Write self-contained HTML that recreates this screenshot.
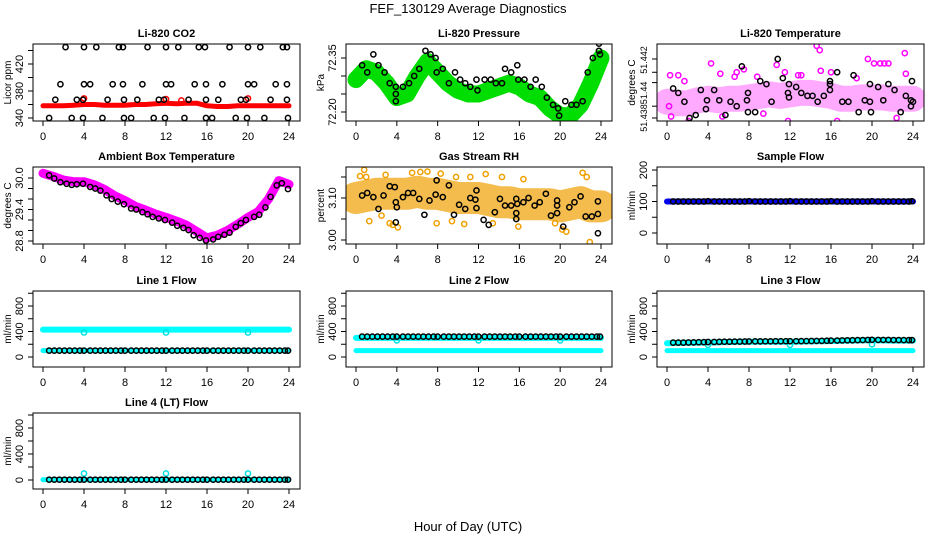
<!DOCTYPE html>
<html><head><meta charset="utf-8"><style>
html,body{margin:0;padding:0;background:#fff;}
svg{display:block;font-family:"Liberation Sans",Arial,sans-serif;}
</style></head><body>
<svg id="chart" width="936" height="540" viewBox="0 0 936 540">
<text x="468" y="13" text-anchor="middle" font-size="13">FEF_130129  Average Diagnostics</text>
<text x="468" y="531" text-anchor="middle" font-size="13">Hour of Day (UTC)</text>
</svg>
<script>
// ---------- DATA ----------
const xTicks = [0,4,8,12,16,20,24];
const bandHours = [0,1,2,3,4,5,6,7,8,9,10,11,12,13,14,15,16,17,18,19,20,21,22,23,24];
const hrs48 = [0.6,1.1,1.6,2.1,2.6,3.1,3.6,4.0,4.6,5.1,5.6,6.1,6.6,7.1,7.6,8.0,8.6,9.1,9.6,10.1,10.6,11.1,11.6,12.0,12.6,13.1,13.6,14.1,14.6,15.1,15.6,16.0,16.6,17.1,17.6,18.1,18.6,19.1,19.6,20.0,20.6,21.1,21.6,22.1,22.6,23.1,23.6,23.9];

// CO2
const co2BandValues = [358,358,358,359,360,360,359,359,359,360,360,361,362,361,362,362,358,357,357,358,358,358,358,358,358];
const co2BlackHours = [2.2,4,5.2,7.4,7.8,10.2,12,13.2,15.2,15.8,18.2,20,21.2,23.4,23.8, 1.7,4,4.6,6.8,7.8,9.7,12,12.5,14.8,15.9,17.5,20,20.6,22.7,23.8, 1.2,3.3,3.9,6.3,7.9,9.2,11.3,11.8,14.2,15.9,17.1,19.3,19.8,22.2,23.8, 0.6,2.8,3.9,5.8,7.9,8.6,10.8,11.9,13.8,15.9,16.5,18.8,19.9,21.6,23.9];
const co2BlackValues = [445,445,445,445,445,445,445,445,445,445,445,445,445,445,445, 390,390,390,390,390,390,390,390,390,390,390,390,390,390,390, 367,367,367,367,367,367,367,367,367,367,367,367,367,367,367, 340,340,340,340,340,340,340,340,340,340,340,340,340,340,340];
const co2RedHours = [4,12,13.5,20];
const co2RedValues = [369,368,366,369];

// Pressure
const presBandValues = [72.29,72.32,72.31,72.28,72.24,72.25,72.30,72.34,72.31,72.28,72.26,72.25,72.25,72.26,72.27,72.28,72.27,72.25,72.24,72.21,72.19,72.19,72.22,72.28,72.35];
const presBlackHours = [0.6,1.1,1.7,2.2,2.8,3.3,3.9,3.9,3.9,4.6,5.2,5.7,6.2,6.8,7.3,7.8,7.9,8.5,9.1,9.7,10.2,10.7,11.2,11.8,11.9,12.6,13.2,13.7,14.3,14.6,15.2,15.8,15.9,16.5,17.1,17.6,18.2,18.7,19.3,19.8,19.9,20.5,21.1,21.6,22.2,22.7,23.2,23.8,23.8,23.9];
const presBlackValues = [72.33,72.31,72.36,72.33,72.31,72.28,72.27,72.25,72.23,72.27,72.28,72.30,72.32,72.37,72.36,72.35,72.31,72.32,72.28,72.31,72.29,72.28,72.27,72.29,72.26,72.29,72.29,72.28,72.28,72.32,72.31,72.33,72.29,72.29,72.27,72.29,72.27,72.24,72.22,72.21,72.19,72.23,72.22,72.22,72.23,72.31,72.35,72.39,72.37,72.36];

// Li-820 temperature
const tempBandValues = [51.4391,51.4390,51.4390,51.4392,51.4393,51.4392,51.4393,51.4393,51.4394,51.4395,51.4396,51.4395,51.4396,51.4397,51.4397,51.4396,51.4395,51.4393,51.4393,51.4394,51.4394,51.4394,51.4393,51.4393,51.4393];
const tempPinkHours = [4.3,5.2,6.6,6.8,7.5,10.7,11.5,14.6,14.9,15.0,13.1,19.6,20.2,20.8,21.2,21.6,23.2,23.3,0.3,1.1,1.7,12.8,16.0,2.1,11.8,16.6,22.4,0.4,5.4,9.4,0.2,8.8,18.5];
const tempPinkValues = [51.4417,51.4410,51.4408,51.4411,51.4413,51.4416,51.4411,51.4429,51.4426,51.4412,51.4409,51.4420,51.4417,51.4417,51.4417,51.4417,51.4424,51.4410,51.4409,51.4409,51.4405,51.4409,51.4411,51.4378,51.4378,51.4378,51.4380,51.4381,51.4381,51.4383,51.4388,51.4408,51.4407];
const tempBlackHours = [0.6,1.1,1.7,2.2,2.8,3.3,3.9,3.8,4.6,5.1,5.7,6.2,6.8,7.3,7.9,7.8,7.9,8.6,9.1,9.7,10.2,10.8,11.3,11.9,11.8,11.9,12.6,13.1,13.7,14.2,14.7,15.3,15.9,15.9,15.9,16.6,17.1,17.7,18.2,18.7,19.3,19.8,19.9,19.8,20.6,21.1,21.6,22.2,22.8,23.3,23.9,23.8,23.8,24.0];
const tempBlackValues = [51.4400,51.4397,51.4391,51.4380,51.4382,51.4399,51.4392,51.4386,51.4399,51.4392,51.4382,51.4391,51.4388,51.4415,51.4397,51.4392,51.4384,51.4384,51.4405,51.4403,51.4391,51.4420,51.4407,51.4403,51.4397,51.4394,51.4401,51.4397,51.4395,51.4395,51.4391,51.4395,51.4405,51.4403,51.4399,51.4411,51.4391,51.4391,51.4409,51.4384,51.4392,51.4403,51.4384,51.4391,51.4401,51.4392,51.4403,51.4399,51.4384,51.4395,51.4405,51.4392,51.4388,51.4391];

// Ambient box temperature
const ambBandValues = [30.09,30.03,29.96,29.93,29.93,29.87,29.78,29.66,29.57,29.46,29.39,29.31,29.25,29.18,29.10,28.98,28.86,28.91,29.00,29.12,29.25,29.36,29.60,29.95,29.88];
const ambBlackHours = [0.6,1.1,1.7,2.3,2.8,3.3,3.9,4.6,5.1,5.6,6.2,6.7,7.3,7.9,8.6,9.1,9.7,10.2,10.7,11.3,11.9,12.6,13.1,13.7,14.2,14.7,15.3,15.9,16.6,17.1,17.7,18.2,18.8,19.3,19.8,20.6,21.1,21.7,22.2,22.8,23.3,23.9];
const ambBlackValues = [30.05,29.99,29.92,29.89,29.87,29.88,29.89,29.83,29.80,29.76,29.67,29.60,29.55,29.50,29.42,29.40,29.35,29.31,29.26,29.23,29.20,29.15,29.09,29.05,29.01,28.91,28.86,28.81,28.83,28.88,28.92,28.96,29.07,29.14,29.20,29.26,29.30,29.44,29.64,29.86,29.90,29.79];

// Gas stream RH
const rhBandValues = [3.100,3.105,3.110,3.110,3.110,3.110,3.115,3.110,3.110,3.105,3.100,3.100,3.100,3.095,3.090,3.090,3.085,3.085,3.085,3.085,3.080,3.085,3.090,3.080,3.080];
const rhOrangeHours = [0.4,0.8,1.3,2.5,3.3,3.6,4.1,5.5,7.0,7.9,8.3,9.4,9.8,10.6,11.2,12.7,13.4,14.3,15.9,16.4,19.5,20.2,20.6,22.2,22.6,22.9,1.0,2.9,6.3];
const rhOrangeValues = [3.152,3.167,3.045,3.058,3.040,3.036,3.030,3.160,3.163,3.040,3.158,3.045,3.150,3.038,3.150,3.157,3.040,3.150,3.032,3.145,3.040,3.025,3.020,3.160,3.150,2.995,3.150,3.155,3.162];
const rhBlackHours = [0.6,1.1,1.7,2.2,2.7,3.3,3.8,3.9,4.0,3.9,4.6,5.1,5.6,6.2,6.7,7.2,7.8,7.9,8.5,9.1,9.6,10.1,10.7,11.2,11.7,11.8,11.8,12.5,13.0,13.6,14.1,14.6,15.2,15.7,15.8,15.7,15.7,16.4,16.9,17.5,18.0,18.6,19.1,19.7,19.7,19.7,20.3,20.9,21.4,22.0,22.5,23.1,23.7,23.7,23.7];
const rhBlackValues = [3.106,3.112,3.102,3.074,3.106,3.128,3.126,3.090,3.078,3.042,3.102,3.112,3.112,3.098,3.060,3.094,3.108,3.142,3.102,3.130,3.060,3.084,3.074,3.100,3.096,3.118,3.076,3.048,3.036,3.066,3.098,3.082,3.082,3.098,3.086,3.064,3.050,3.090,3.100,3.082,3.090,3.110,3.058,3.094,3.082,3.064,3.032,3.078,3.090,3.104,3.056,3.056,3.092,3.062,3.016];

// Flows
const sampleBandValues = [100,100,100,100,100,100,100,100,100,100,100,100,100,100,100,100,100,100,100,100,100,100,100,100,100];
const sampleBlackValues = [100,100,100,100,100,100,100,101,100,100,100,100,100,100,100,101,100,100,100,100,100,100,100,101,100,100,100,100,100,100,100,101,100,100,100,100,100,100,100,101,100,100,100,100,100,100,100,101];

const line1HighBand = [430,430,430,430,430,430,430,430,430,430,430,430,430,430,430,430,430,430,430,430,430,430,430,430,430];
const line1LowBand = [100,100,100,100,100,100,100,100,100,100,100,100,100,100,100,100,100,100,100,100,100,100,100,100,100];
const line1BlackValues = [100,100,100,100,100,100,100,100,100,100,100,100,100,100,100,100,100,100,100,100,100,100,100,100,100,100,100,100,100,100,100,100,100,100,100,100,100,100,100,100,100,100,100,100,100,100,100,100];
const line1CyanHours = [4,12,20];
const line1CyanValues = [385,385,385];

const line2HighBand = [300,300,300,300,300,300,300,300,300,300,300,300,300,300,300,300,300,300,300,300,300,300,300,300,300];
const line2LowBand = [100,100,100,100,100,100,100,100,100,100,100,100,100,100,100,100,100,100,100,100,100,100,100,100,100];
const line2BlackValues = [320,320,320,320,320,320,320,320,320,320,320,320,320,320,320,320,320,320,320,320,320,320,320,320,320,320,320,320,320,320,320,320,320,320,320,320,320,320,320,320,320,320,320,320,320,320,320,320];
const line2CyanHours = [4,12,20];
const line2CyanValues = [260,260,260];

const line3HighBand = [215,220,222,225,228,232,235,237,238,238,239,240,240,242,244,246,250,255,258,260,262,260,258,258,258];
const line3LowBand = [100,100,100,100,100,100,100,100,100,100,100,100,100,100,100,100,100,100,100,100,100,100,100,100,100];
const line3BlackValues = [225,225,226,228,230,232,233,235,236,238,240,240,242,242,243,244,245,245,246,246,247,247,248,248,248,249,250,251,252,253,255,257,258,260,262,263,265,266,268,270,268,268,268,266,266,265,265,265];
const line3CyanHours = [4,12,20];
const line3CyanValues = [190,190,200];

const line4Band = [5,5,5,5,5,5,5,5,5,5,5,5,5,5,5,5,5,5,5,5,5,5,5,5,5];
const line4BlackValues = [5,5,5,5,5,5,5,5,5,5,5,5,5,5,5,5,5,5,5,5,5,5,5,5,5,5,5,5,5,5,5,5,5,5,5,5,5,5,5,5,5,5,5,5,5,5,5,5];
const line4CyanHours = [4,12,20];
const line4CyanValues = [100,100,100];

// ---------- DRAWING ----------
const NS = 'http://www.w3.org/2000/svg';
const svg = document.getElementById('chart');
function mk(tag, attrs, parent){ const e=document.createElementNS(NS,tag); for(const k in attrs) e.setAttribute(k,attrs[k]); (parent||svg).appendChild(e); return e; }

function panel(cfg){
  const g = mk('g',{});
  
  
  const L=cfg.x0, R=cfg.x1, T=cfg.y0, B=cfg.y1;
  const px0=L+10, px24=R-11;
  const xs = h => px0 + (h/24)*(px24-px0);
  const ys = v => cfg.pBot + (v-cfg.vBot)*(cfg.pTop-cfg.pBot)/(cfg.vTop-cfg.vBot);
  cfg.xs=xs; cfg.ys=ys; cfg.g=g;
  const t = mk('text',{x:(L+R)/2,y:T-7,'text-anchor':'middle','font-size':11,'font-weight':'bold'},g);
  t.textContent = cfg.title;
  
  
  xTicks.forEach(h=>{
    const X=xs(h);
    mk('line',{x1:X,x2:X,y1:B,y2:B+5,stroke:'#000','stroke-width':1},g);
    const tl=mk('text',{x:X,y:B+19,'text-anchor':'middle','font-size':11},g);
    tl.textContent=h;
    
    
  });
  cfg.yTicks.forEach(v=>{
    const Y=ys(v);
    mk('line',{x1:L-5,x2:L,y1:Y,y2:Y,stroke:'#000','stroke-width':1},g);
  });
  const fs = cfg.yFont || 11;
  cfg.yLabels.forEach((v,i)=>{
    const Y=ys(v);
    const tl=mk('text',{x:L-10,y:Y,'text-anchor':'middle','font-size':fs,transform:`rotate(-90 ${L-10} ${Y})`},g);
    tl.textContent=cfg.yLabelText[i];
    
    
  });
  const yl=mk('text',{x:L-22,y:(T+B)/2,'text-anchor':'middle','font-size':10,transform:`rotate(-90 ${L-22} ${(T+B)/2})`},g);
  yl.textContent=cfg.ylab;
  
  
  const clip = 'clip-'+cfg.name;
  const cp = mk('clipPath',{id:clip},g); mk('rect',{x:L,y:T,width:R-L,height:B-T},cp);
  cfg.plot = mk('g',{'clip-path':`url(#${clip})`},g);
  cfg.boxRect = [L,T,R,B];
  return cfg;
}
function finish(cfg){
  const [L,T,R,B]=cfg.boxRect;
  const r=mk('rect',{x:L,y:T,width:R-L,height:B-T,fill:'none',stroke:'#000','stroke-width':1},cfg.g);
  
  
}
function band(cfg, vals, color, width, op, name){
  const pts = bandHours.map((h,i)=>cfg.xs(h).toFixed(1)+','+cfg.ys(vals[i]).toFixed(1)).join(' ');
  const p=mk('polyline',{points:pts,fill:'none',stroke:color,'stroke-width':width,'stroke-linecap':'round','stroke-linejoin':'round',opacity:op},cfg.plot);
  
  
}
function pts(cfg, hrs, vals, color, name, r, sw){
  hrs.forEach((h,i)=>{
    const c=mk('circle',{cx:cfg.xs(h),cy:cfg.ys(vals[i]),r:r||2.6,fill:'none',stroke:color,'stroke-width':sw||1.5},cfg.plot);
    
    
  });
}

const C1=[33,300], C2=[346,612], C3=[657,924];
const R1=[44,121], R2=[167,244], R3=[291,367], R4=[413,489];

// CO2
let p = panel({name:'co2-panel',title:'Li-820 CO2',ylab:'Licor ppm',x0:C1[0],x1:C1[1],y0:R1[0],y1:R1[1],vBot:340,pBot:118,vTop:420,pTop:64,yTicks:[340,360,380,400,420,440],yLabels:[340,380,420],yLabelText:['340','380','420']});
band(p, co2BandValues, '#ff0000', 5, 1, 'co2-red-band');
pts(p, co2RedHours, co2RedValues, '#ff0000', 'co2-red-point');
pts(p, co2BlackHours, co2BlackValues, '#000', 'co2-black-point');
finish(p);

// Pressure
p = panel({name:'pressure-panel',title:'Li-820 Pressure',ylab:'kPa',x0:C2[0],x1:C2[1],y0:R1[0],y1:R1[1],vBot:72.20,pBot:112,vTop:72.35,pTop:58,yTicks:[72.20,72.25,72.30,72.35],yLabels:[72.20,72.35],yLabelText:['72.20','72.35']});
band(p, presBandValues, '#00dd00', 17, 1, 'pressure-green-band');
pts(p, presBlackHours, presBlackValues, '#000', 'pressure-black-point');
finish(p);

// Li-820 temperature
p = panel({name:'li820-temperature-panel',title:'Li-820 Temperature',ylab:'degrees C',yFont:9,x0:C3[0],x1:C3[1],y0:R1[0],y1:R1[1],vBot:51.438,pBot:118,vTop:51.442,pTop:59,yTicks:[51.438,51.4388,51.4404,51.4411,51.442],yLabels:[51.438,51.4397,51.44193],yLabelText:['51.438','51.44','51.442']});
band(p, tempBandValues, '#ff55ff', 26, 0.5, 'temperature-magenta-band');
pts(p, tempPinkHours, tempPinkValues, '#ff00ff', 'temperature-magenta-point');
pts(p, tempBlackHours, tempBlackValues, '#000', 'temperature-black-point');
finish(p);

// Ambient
p = panel({name:'ambient-temperature-panel',title:'Ambient Box Temperature',ylab:'degrees C',x0:C1[0],x1:C1[1],y0:R2[0],y1:R2[1],vBot:28.8,pBot:241,vTop:30.0,pTop:178,yTicks:[28.8,29.0,29.2,29.4,29.6,29.8,30.0],yLabels:[28.8,29.4,30.0],yLabelText:['28.8','29.4','30.0']});
band(p, ambBandValues, '#ff00ff', 9, 1, 'ambient-magenta-band');
pts(p, ambBlackHours, ambBlackValues, '#000', 'ambient-black-point');
finish(p);

// RH
p = panel({name:'rh-panel',title:'Gas Stream RH',ylab:'percent',x0:C2[0],x1:C2[1],y0:R2[0],y1:R2[1],vBot:3.00,pBot:240,vTop:3.10,pTop:198,yTicks:[3.00,3.05,3.10,3.15],yLabels:[3.00,3.10],yLabelText:['3.00','3.10']});
band(p, rhBandValues, '#f0a000', 32, 0.7, 'rh-orange-band');
pts(p, rhOrangeHours, rhOrangeValues, '#f0a000', 'rh-orange-point');
pts(p, rhBlackHours, rhBlackValues, '#000', 'rh-black-point');
finish(p);

// Sample flow
p = panel({name:'sample-flow-panel',title:'Sample Flow',ylab:'ml/min',x0:C3[0],x1:C3[1],y0:R2[0],y1:R2[1],vBot:0,pBot:233,vTop:200,pTop:170,yTicks:[0,50,100,150,200],yLabels:[0,100,200],yLabelText:['0','100','200']});
band(p, sampleBandValues, '#0000ee', 6, 1, 'sample-blue-band');
pts(p, hrs48, sampleBlackValues, '#000', 'sample-black-point');
finish(p);

const flowTicks=[0,200,400,600,800,1000], flowLabels=[0,400,800], flowLabelText=['0','400','800'];
// Line 1
p = panel({name:'line1-flow-panel',title:'Line 1 Flow',ylab:'ml/min',x0:C1[0],x1:C1[1],y0:R3[0],y1:R3[1],vBot:0,pBot:357,vTop:800,pTop:306,yTicks:flowTicks,yLabels:flowLabels,yLabelText:flowLabelText});
band(p, line1HighBand, '#00ffff', 6, 1, 'line1-cyan-high-band');
band(p, line1LowBand, '#00ffff', 5, 1, 'line1-cyan-low-band');
pts(p, line1CyanHours, line1CyanValues, '#00e0e0', 'line1-cyan-point');
pts(p, hrs48, line1BlackValues, '#000', 'line1-black-point');
finish(p);

// Line 2
p = panel({name:'line2-flow-panel',title:'Line 2 Flow',ylab:'ml/min',x0:C2[0],x1:C2[1],y0:R3[0],y1:R3[1],vBot:0,pBot:357,vTop:800,pTop:306,yTicks:flowTicks,yLabels:flowLabels,yLabelText:flowLabelText});
band(p, line2HighBand, '#00ffff', 6, 1, 'line2-cyan-high-band');
band(p, line2LowBand, '#00ffff', 5, 1, 'line2-cyan-low-band');
pts(p, line2CyanHours, line2CyanValues, '#00e0e0', 'line2-cyan-point');
pts(p, hrs48, line2BlackValues, '#000', 'line2-black-point');
finish(p);

// Line 3
p = panel({name:'line3-flow-panel',title:'Line 3 Flow',ylab:'ml/min',x0:C3[0],x1:C3[1],y0:R3[0],y1:R3[1],vBot:0,pBot:357,vTop:800,pTop:306,yTicks:flowTicks,yLabels:flowLabels,yLabelText:flowLabelText});
band(p, line3HighBand, '#00ffff', 6, 1, 'line3-cyan-high-band');
band(p, line3LowBand, '#00ffff', 5, 1, 'line3-cyan-low-band');
pts(p, line3CyanHours, line3CyanValues, '#00e0e0', 'line3-cyan-point');
pts(p, hrs48, line3BlackValues, '#000', 'line3-black-point');
finish(p);

// Line 4
p = panel({name:'line4-flow-panel',title:'Line 4 (LT) Flow',ylab:'ml/min',x0:C1[0],x1:C1[1],y0:R4[0],y1:R4[1],vBot:0,pBot:480,vTop:800,pTop:428,yTicks:flowTicks,yLabels:flowLabels,yLabelText:flowLabelText});
band(p, line4Band, '#00ffff', 5, 1, 'line4-cyan-band');
pts(p, line4CyanHours, line4CyanValues, '#00e0e0', 'line4-cyan-point');
pts(p, hrs48, line4BlackValues, '#000', 'line4-black-point');
finish(p);
</script>
</body></html>
